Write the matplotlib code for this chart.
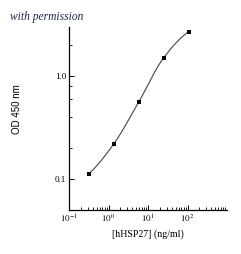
import numpy as np
import matplotlib
matplotlib.use("Agg")
import matplotlib.pyplot as plt
from matplotlib.ticker import FixedLocator, FixedFormatter, NullFormatter

# data
conc = [0.32, 1.37, 5.9, 25.0, 107.0]
od = [0.112, 0.22, 0.565, 1.51, 2.7]
xtick_vals = [0.1, 1, 10, 100]
xtick_labels = ['$10^{-1}$', '$10^{0}$', '$10^{1}$', '$10^{2}$']
ytick_vals = [0.1, 1.0]
ytick_labels = ['0.1', '1.0']
yminor_vals = [0.2, 0.4, 0.6, 0.8, 2.0]

plt.rcParams['mathtext.fontset'] = 'stix'

def pchip(x, y, xs):
    x = np.asarray(x, float); y = np.asarray(y, float)
    h = np.diff(x); d = np.diff(y) / h
    n = len(x)
    m = np.zeros(n)
    for i in range(1, n - 1):
        if d[i - 1] * d[i] > 0:
            w1 = 2 * h[i] + h[i - 1]; w2 = h[i] + 2 * h[i - 1]
            m[i] = (w1 + w2) / (w1 / d[i - 1] + w2 / d[i])
    m[0] = ((2 * h[0] + h[1]) * d[0] - h[0] * d[1]) / (h[0] + h[1])
    m[-1] = ((2 * h[-1] + h[-2]) * d[-1] - h[-1] * d[-2]) / (h[-1] + h[-2])
    out = np.empty_like(xs)
    for k, xv in enumerate(xs):
        i = min(max(np.searchsorted(x, xv) - 1, 0), n - 2)
        t = (xv - x[i]) / h[i]
        h00 = 2 * t**3 - 3 * t**2 + 1; h10 = t**3 - 2 * t**2 + t
        h01 = -2 * t**3 + 3 * t**2; h11 = t**3 - t**2
        out[k] = h00 * y[i] + h10 * h[i] * m[i] + h01 * y[i + 1] + h11 * h[i] * m[i + 1]
    return out

fig = plt.figure(figsize=(2.41, 2.54), dpi=100)
ax = fig.add_axes([69 / 241, 44 / 254, 158 / 241, 183 / 254])

lx = np.log10(conc); ly = np.log10(od)
xs = np.linspace(lx[0], lx[-1], 200)
ys = pchip(lx, ly, xs)
ax.plot(10 ** xs, 10 ** ys, color='#444444', lw=0.8)
ax.plot(conc, od, 's', color='black', ms=2.6, mew=0)

ax.set_xscale('log'); ax.set_yscale('log')
ax.set_xlim(0.1, 1000)
ax.set_ylim(0.05, 3.0)

ax.xaxis.set_major_locator(FixedLocator(xtick_vals))
ax.xaxis.set_major_formatter(FixedFormatter(xtick_labels))
minx = [m * 10.0 ** e for e in range(-1, 3) for m in range(2, 10)]
ax.xaxis.set_minor_locator(FixedLocator(minx))
ax.xaxis.set_minor_formatter(NullFormatter())
ax.yaxis.set_major_locator(FixedLocator(ytick_vals))
ax.yaxis.set_major_formatter(FixedFormatter(ytick_labels))
ax.yaxis.set_minor_locator(FixedLocator(yminor_vals))
ax.yaxis.set_minor_formatter(NullFormatter())

for s in ['top', 'right']:
    ax.spines[s].set_visible(False)
for s in ['left', 'bottom']:
    ax.spines[s].set_linewidth(0.9)
ax.tick_params(which='major', direction='in', length=3.5, width=0.7, pad=2, labelsize=6.5)
ax.tick_params(which='minor', direction='in', length=2, width=0.6)
for lab in ax.get_yticklabels():
    lab.set_fontfamily('Liberation Serif')

ax.set_xlabel('[hHSP27] (ng/ml)', fontsize=7.2, family='Liberation Serif', labelpad=3)
ax.set_ylabel('OD 450 nm', fontsize=7, family='Liberation Sans')
ax.yaxis.set_label_coords(-0.3, 0.55)

fig.text(10 / 241, 1 - 17 / 254, 'with permission', fontsize=8.3, style='italic',
         family='Liberation Serif', color='#1c2a4a', va='center', ha='left')

fig.savefig('out.png', dpi=100)
